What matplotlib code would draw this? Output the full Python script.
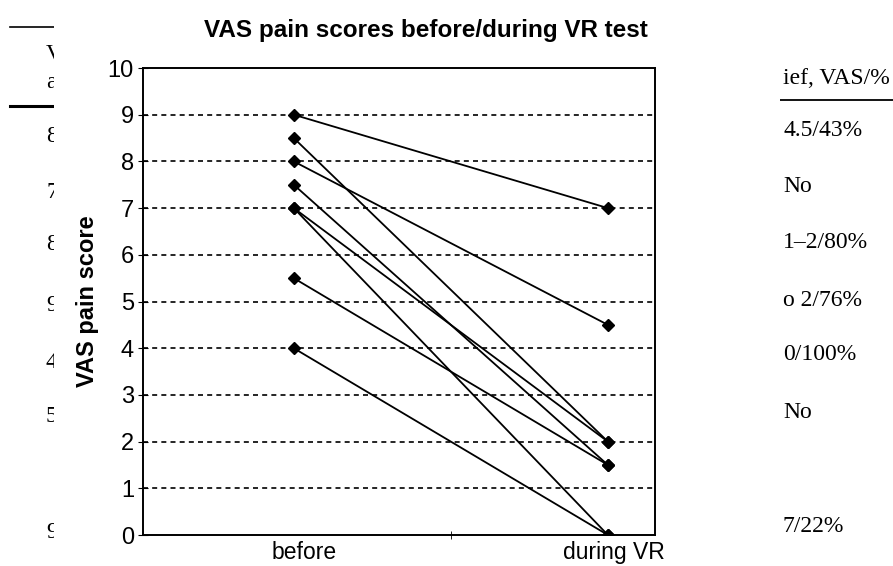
"""VAS pain scores before/during VR test."""
import matplotlib
matplotlib.use('Agg')
import matplotlib.pyplot as plt
import matplotlib.transforms as mtransforms
from matplotlib.patches import Rectangle


categories = ['before', 'during VR']
before = [9, 8.5, 8, 7.5, 7, 7, 5.5, 4]
during = [7, 2, 4.5, 1.5, 2, 0, 1.5, 0]
y_ticks = list(range(0, 11))

# bits of the table that the chart was pasted over
left_table = ['V', 'a', '8', '7', '8', '9', '4', '5', '9']
right_table = ['ief, VAS/%', '4.5/43%', 'No', '1\u20132/80%', 'o 2/76%',
               '0/100%', 'No', '', '7/22%']

SANS = ['Liberation Sans', 'DejaVu Sans']
SERIF = ['Liberation Serif', 'DejaVu Serif']

W, H = 893, 566
fig = plt.figure(figsize=(W / 100, H / 100), dpi=100)
fig.patch.set_facecolor('white')


def px(x, y):
    """Pixel position -> figure fraction."""
    return x / W, 1 - y / H


# table fragments, drawn under a white sheet so they are cut off
left_y = [55, 83, 137, 193, 245, 305, 363, 417, 533]
for txt, y in zip(left_table, left_y):
    fig.text(*px(46, y), txt, family=SERIF, fontsize=17,
             va='center', ha='left', zorder=1)
for y, lw in [(27, 1.2), (106, 2.2)]:
    fig.add_artist(plt.Line2D([10 / W, 60 / W], [1 - y / H] * 2,
                              color='black', lw=lw, zorder=1))

right_y = [78, 130, 187, 243, 300, 355, 413, 470, 527]
for txt, y in zip(right_table, right_y):
    fig.text(*px(783, y), txt, family=SERIF, fontsize=17,
             va='center', ha='left', zorder=1)
fig.add_artist(plt.Line2D([780 / W, 893 / W], [1 - 100 / H] * 2,
                          color='black', lw=1.3, zorder=1))

fig.add_artist(Rectangle((54 / W, 0), (780 - 54) / W, 1,
                         transform=fig.transFigure, facecolor='white',
                         edgecolor='none', zorder=1.5))

ax = fig.add_axes([143 / W, 1 - 535 / H, 512 / W, 467 / H])
ax.set_zorder(2)

xs = list(range(len(categories)))
for b, d in zip(before, during):
    ax.plot(xs, [b, d], color='black', lw=1.3, marker='D', markersize=6,
            zorder=3)

for y in y_ticks[1:-1]:
    ax.axhline(y, color='black', lw=1.2, ls=(0, (3, 2.5)), zorder=1)

ax.set_xlim(-0.48, 1.15)
ax.set_ylim(0, 10)
ax.set_yticks(y_ticks)
ax.set_yticklabels([str(v) for v in y_ticks], family=SANS, fontsize=17)
ax.set_xticks(xs)
ax.set_xticklabels(categories, family=SANS, fontsize=16.5)
ax.set_xticks([0.5], minor=True)
ax.tick_params(axis='x', which='major', length=0, pad=4)
ax.tick_params(axis='x', which='minor', direction='inout', length=6)
ax.tick_params(axis='y', direction='inout', length=7, pad=3)

# the scanned labels sit a little right of their categories
for label, shift in zip(ax.get_xticklabels(), [10, 6]):
    label.set_transform(label.get_transform() + mtransforms.ScaledTranslation(
        shift / 100, 0, fig.dpi_scale_trans))

for spine in ax.spines.values():
    spine.set_linewidth(1.4)

ax.set_ylabel('VAS pain score', family=SANS, fontsize=17,
              fontweight='bold', labelpad=6)
fig.text(*px(426, 30), 'VAS pain scores before/during VR test',
         family=SANS, fontsize=17.5, fontweight='bold',
         ha='center', va='center')

fig.savefig('out.png', dpi=100)
